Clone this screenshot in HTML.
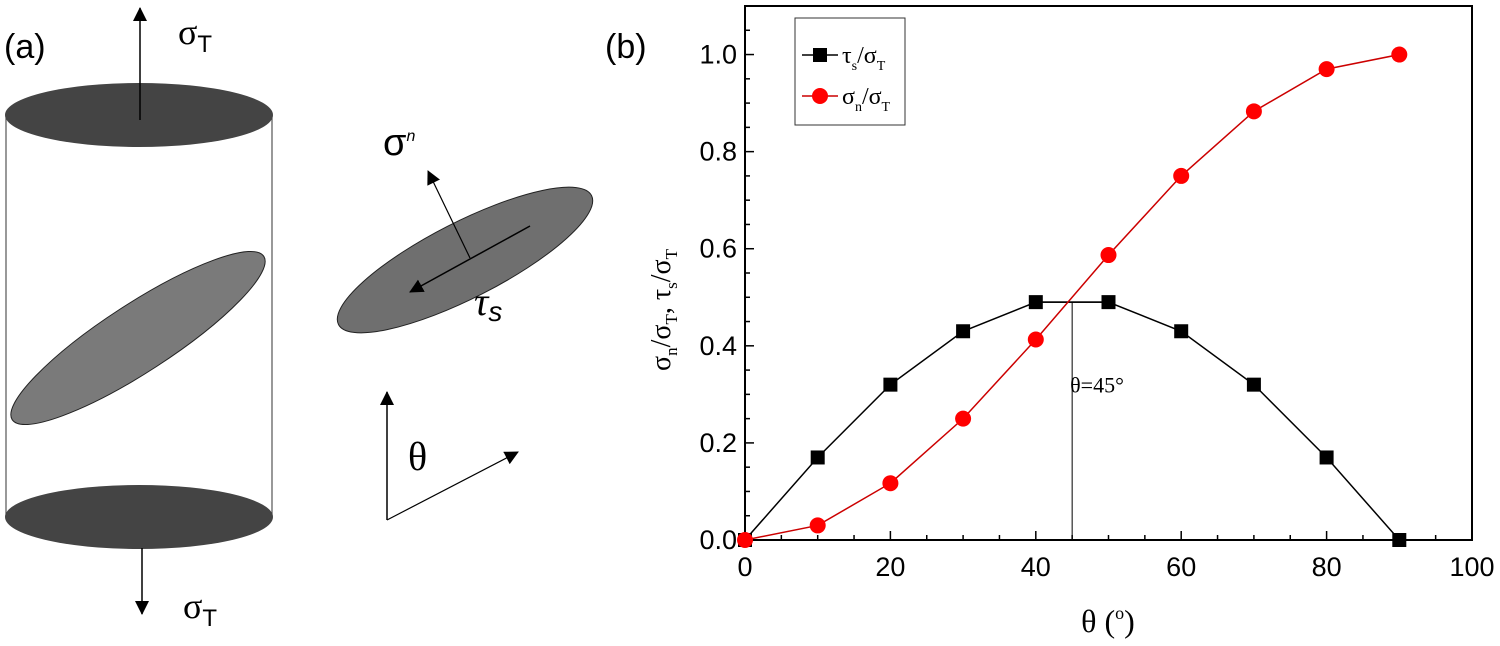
<!DOCTYPE html>
<html><head><meta charset="utf-8"><style>
body{margin:0;background:#fff;width:1500px;height:641px;overflow:hidden}
svg{font-family:"Liberation Serif",serif}
</style></head><body>
<svg width="1500" height="641" viewBox="0 0 1500 641">
<defs>
<marker id="ah2" markerWidth="14" markerHeight="14" refX="13" refY="7" orient="auto" markerUnits="userSpaceOnUse"><path d="M0,0 L14,7 L0,14 Z" fill="#000"/></marker>
</defs>
<g>
<text x="4" y="58" font-family="Liberation Sans,sans-serif" font-size="34">(a)</text>
<line x1="6" y1="115" x2="6" y2="517" stroke="#555" stroke-width="1.2"/>
<line x1="272" y1="115" x2="272" y2="517" stroke="#555" stroke-width="1.2"/>
<ellipse cx="139" cy="115" rx="134" ry="32" fill="#444"/>
<ellipse cx="139" cy="517" rx="134" ry="32" fill="#444"/>
<ellipse cx="138" cy="338" rx="150" ry="34" transform="rotate(-33 138 338)" fill="#7a7a7a" stroke="#222"/>
<line x1="140" y1="120" x2="140" y2="8" stroke="#000" stroke-width="1.5" marker-end="url(#ah2)"/>
<line x1="142" y1="548" x2="142" y2="614" stroke="#000" stroke-width="1.5" marker-end="url(#ah2)"/>
<text x="178" y="44" font-size="36">σ<tspan font-size="24" dy="8" font-family="Liberation Sans,sans-serif">T</tspan></text>
<text x="183" y="618" font-size="36">σ<tspan font-size="24" dy="8" font-family="Liberation Sans,sans-serif">T</tspan></text>
<ellipse cx="465" cy="260" rx="142" ry="38" transform="rotate(-27 465 260)" fill="#6f6f6f" stroke="#222"/>
<line x1="470" y1="258" x2="428" y2="171" stroke="#000" stroke-width="1.2" marker-end="url(#ah2)"/>
<line x1="530" y1="226" x2="410" y2="292" stroke="#000" stroke-width="1.5" marker-end="url(#ah2)"/>
<text x="383" y="155" font-size="38" font-family="Liberation Sans,sans-serif">σ<tspan font-size="16" dy="-14" font-style="italic">n</tspan></text>
<text x="474" y="315" font-size="40" font-style="italic">τ<tspan font-size="28" font-family="Liberation Sans,sans-serif" dy="6">s</tspan></text>
<line x1="387" y1="520" x2="387" y2="392" stroke="#000" stroke-width="1.5" marker-end="url(#ah2)"/>
<line x1="387" y1="520" x2="518" y2="452" stroke="#000" stroke-width="1.2" marker-end="url(#ah2)"/>
<text x="408" y="470" font-size="40">θ</text>
</g>
<text x="605" y="58" font-family="Liberation Sans,sans-serif" font-size="34">(b)</text>
<g id="chart"></g>
</svg>
<script>
const xValues=[0,10,20,30,40,50,60,70,80,90];
const tauValues=[0,0.17,0.32,0.43,0.49,0.49,0.43,0.32,0.17,0];
const sigmaValues=[0,0.03,0.117,0.25,0.413,0.587,0.75,0.883,0.97,1.0];
const xTicks=[0,20,40,60,80,100];
const yTicks=[0.0,0.2,0.4,0.6,0.8,1.0];
const L=745,R=1472,T=6,B=540;
const xs=v=>L+(v/100)*(R-L);
const ys=v=>B-(v/1.1)*(B-T);
const g=document.getElementById('chart');
const NS='http://www.w3.org/2000/svg';
function mk(t,a,p){const e=document.createElementNS(NS,t);for(const k in a)e.setAttribute(k,a[k]);(p||g).appendChild(e);return e;}
let f=mk('rect',{x:L,y:T,width:R-L,height:B-T,fill:'none',stroke:'#000','stroke-width':2});


for(let v=0;v<=100;v+=5){const l=mk('line',{x1:xs(v),x2:xs(v),y1:B,y2:B-(v%20==0?9:5),stroke:'#000','stroke-width':1.5});

}
for(let i=0;i<=22;i++){const v=i*0.05;const l=mk('line',{x1:L,x2:L+(i%4==0?9:5),y1:ys(v),y2:ys(v),stroke:'#000','stroke-width':1.5});

}
xTicks.forEach(v=>{const t=mk('text',{x:xs(v),y:B+36,'text-anchor':'middle','font-family':'Liberation Sans,sans-serif','font-size':27});t.textContent=v;

});
yTicks.forEach(v=>{const t=mk('text',{x:L-8,y:ys(v)+9,'text-anchor':'end','font-family':'Liberation Sans,sans-serif','font-size':27});t.textContent=v.toFixed(1);

});
let xt=mk('text',{x:1108,y:632,'text-anchor':'middle','font-size':32});xt.innerHTML='θ (<tspan font-size="18" dy="-13">o</tspan><tspan dy="13">)</tspan>';


let yt=mk('text',{x:0,y:0,'text-anchor':'middle','font-size':28,transform:'translate(670,310) rotate(-90)'});
yt.innerHTML='σ<tspan font-size="17" dy="7">n</tspan><tspan dy="-7">/σ</tspan><tspan font-size="17" dy="7">T</tspan><tspan dy="-7">, τ</tspan><tspan font-size="17" dy="7">s</tspan><tspan dy="-7">/σ</tspan><tspan font-size="17" dy="7">T</tspan>';


let vl=mk('line',{x1:xs(45),x2:xs(45),y1:ys(0.49),y2:B,stroke:'#000','stroke-width':1});


let at=mk('text',{x:xs(45)-2,y:ys(0.32)+8,'font-size':22});at.textContent='θ=45°';


let ht=mk('line',{x1:xs(40),x2:xs(50),y1:ys(0.49),y2:ys(0.49),stroke:'#000','stroke-width':1.5});


let p1=mk('polyline',{points:xValues.map((x,i)=>xs(x)+','+ys(tauValues[i])).join(' '),fill:'none',stroke:'#000','stroke-width':1.5});


let p2=mk('polyline',{points:xValues.map((x,i)=>xs(x)+','+ys(sigmaValues[i])).join(' '),fill:'none',stroke:'#c00','stroke-width':1.5});


xValues.forEach((x,i)=>{const r=mk('rect',{x:xs(x)-7,y:ys(tauValues[i])-7,width:14,height:14,fill:'#000'});

});
xValues.forEach((x,i)=>{const c=mk('circle',{cx:xs(x),cy:ys(sigmaValues[i]),r:8,fill:'#f00'});

});
const lg=mk('g',{});


mk('rect',{x:795,y:18,width:110,height:107,fill:'#fff',stroke:'#333','stroke-width':1},lg);
const e1=mk('g',{},lg);


mk('line',{x1:802,x2:838,y1:55,y2:55,stroke:'#000','stroke-width':1.5},e1);
mk('rect',{x:813,y:48,width:14,height:14,fill:'#000'},e1);
const t1=mk('text',{x:842,y:63,'font-size':24},e1);t1.innerHTML='τ<tspan font-size="14" dy="7">s</tspan><tspan dy="-7">/σ</tspan><tspan font-size="14" dy="7">T</tspan>';
const e2=mk('g',{},lg);


mk('line',{x1:802,x2:838,y1:96,y2:96,stroke:'#c00','stroke-width':1.5},e2);
mk('circle',{cx:820,cy:96,r:8,fill:'#f00'},e2);
const t2=mk('text',{x:842,y:104,'font-size':24},e2);t2.innerHTML='σ<tspan font-size="14" dy="7">n</tspan><tspan dy="-7">/σ</tspan><tspan font-size="14" dy="7">T</tspan>';
</script>
</body></html>
